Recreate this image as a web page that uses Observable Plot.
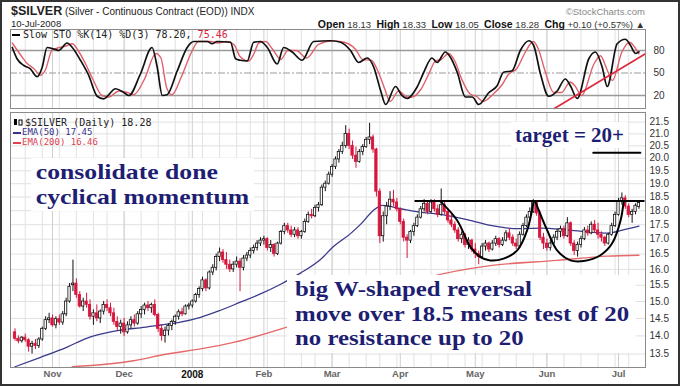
<!DOCTYPE html>
<html><head><meta charset="utf-8">
<script src="https://cdn.jsdelivr.net/npm/d3@7"></script>
<script src="https://cdn.jsdelivr.net/npm/@observablehq/plot@0.6"></script>
<style>
body{margin:0;background:#fff}
#wrap{position:relative;width:680px;height:386px;overflow:hidden;background:#fff;font-family:"Liberation Sans",Arial,sans-serif;color:#222}
.abs{position:absolute;white-space:nowrap}
#stoch,#price{position:absolute;left:0}
#stoch{top:0}
#price{top:100px}
.note{position:absolute;background:#fff;color:#1e1e72;font-family:"Liberation Serif","Times New Roman",serif;font-weight:bold;white-space:nowrap;transform-origin:0 0}
.mono{font-family:"DejaVu Sans Mono",monospace}
#border{position:absolute;left:0;top:0;width:680px;height:386px;box-sizing:border-box;border:2px solid #333;pointer-events:none}
.dash{display:inline-block;width:8px;height:2px;vertical-align:middle;margin-right:3px}
</style></head>
<body>
<div id="wrap">
  <div id="stoch"></div>
  <div id="price"></div>
  <div class="abs" style="left:11px;top:4px;font-size:10px;line-height:14px"><b style="font-size:12.5px">$SILVER</b> (Silver - Continuous Contract (EOD)) INDX</div>
  <div class="abs" style="left:11px;top:18px;font-size:9.5px;line-height:12px">10-Jul-2008</div>
  <div class="abs" style="right:35px;top:6px;font-size:9.5px;line-height:12px;color:#888">©StockCharts.com</div>
  <div class="abs" style="right:35px;top:18px;font-size:9.5px;line-height:12px;color:#333"><b style="font-size:10.5px;color:#111">Open</b> 18.13&nbsp; <b style="font-size:10.5px;color:#111">High</b> 18.33&nbsp; <b style="font-size:10.5px;color:#111">Low</b> 18.05&nbsp; <b style="font-size:10.5px;color:#111">Close</b> 18.28&nbsp; <b style="font-size:10.5px;color:#111">Chg</b> +0.10 (+0.57%) ▲</div>
  <div class="abs mono" style="left:12px;top:29px;font-size:10px;line-height:12px;color:#222"><span class="dash" style="background:#000"></span>Slow STO %K(14) %D(3) 78.20, <span style="color:#d8203c">75.46</span></div>
  <div class="abs mono" style="left:13px;top:117px;font-size:10px;line-height:12px;color:#222"><svg width="10" height="9" style="vertical-align:-1px;margin-right:2px"><rect x="1" y="1" width="3" height="6" fill="#000"/><rect x="6" y="2" width="3" height="5" fill="#fff" stroke="#000" stroke-width="1"/></svg>$SILVER (Daily) 18.28</div>
  <div class="abs mono" style="left:13px;top:127px;font-size:9px;line-height:11px;color:#33338a"><span class="dash" style="background:#33338a;margin-right:1px"></span>EMA(50) 17.45</div>
  <div class="abs mono" style="left:13px;top:137px;font-size:9px;line-height:11px;color:#e04050"><span class="dash" style="background:#e04050;margin-right:1px"></span>EMA(200) 16.46</div>
  <div class="note" style="left:31px;top:158px;padding:2px 4px;font-size:21.8px;line-height:24.5px;transform:scaleX(1.18)">consolidate done<br>cyclical momentum</div>
  <div class="note" style="left:511px;top:122px;padding:2px 4px;font-size:21px;line-height:22px">target = 20+</div>
  <div class="note" style="left:287px;top:275px;padding:2px 6px 2px 7px;font-size:21.8px;line-height:24.5px;transform:scaleX(1.14)">big W-shaped reversal<br>move over 18.5 means test of 20<br>no resistance up to 20</div>
  <div id="border"></div>
</div>
<script>
// ---- data ----
const tradingMonths = [
  ["2007-10", [17,18,19,22,23,24,25,26,29,30,31]],
  ["2007-11", [1,2,5,6,7,8,9,12,13,14,15,16,19,20,21,23,26,27,28,29,30]],
  ["2007-12", [3,4,5,6,7,10,11,12,13,14,17,18,19,20,21,24,26,27,28,31]],
  ["2008-01", [2,3,4,7,8,9,10,11,14,15,16,17,18,22,23,24,25,28,29,30,31]],
  ["2008-02", [1,4,5,6,7,8,11,12,13,14,15,19,20,21,22,25,26,27,28,29]],
  ["2008-03", [3,4,5,6,7,10,11,12,13,14,17,18,19,20,24,25,26,27,28,31]],
  ["2008-04", [1,2,3,4,7,8,9,10,11,14,15,16,17,18,21,22,23,24,25,28,29,30]],
  ["2008-05", [1,2,5,6,7,8,9,12,13,14,15,16,19,20,21,22,23,27,28,29,30]],
  ["2008-06", [2,3,4,5,6,9,10,11,12,13,16,17,18,19,20,23,24,25,26,27,30]],
  ["2008-07", [1,2,3,7,8,9,10]]
];
const monthLabels = ["Nov","Dec","2008","Feb","Mar","Apr","May","Jun","Jul"];
const priceTicks = [13.5,14,14.5,15,15.5,16,16.5,17,17.5,18,18.5,19,19.5,20,20.5,21,21.5];
const stoTicks = [20,50,80];

const open = [
14.10,13.92,13.85,13.95,13.88,13.70,13.78,13.72,13.90,14.20,
14.45,14.50,14.30,14.48,14.38,14.62,15.00,15.50,15.55,15.20,
14.85,15.00,14.90,14.55,14.65,14.50,14.70,14.90,14.80,14.65,
14.40,14.25,14.35,14.10,14.30,14.45,14.35,14.62,14.75,14.88,
14.80,14.90,14.60,14.20,14.00,14.15,14.28,14.40,14.55,14.68,
14.62,14.85,14.88,15.00,15.20,15.38,15.65,15.40,15.90,16.05,
16.40,16.55,16.30,16.15,16.00,16.15,16.25,16.05,16.35,16.45,
16.60,16.70,16.85,16.95,17.00,16.70,16.80,16.50,16.85,17.25,
17.45,17.30,17.15,17.30,17.10,17.25,17.60,17.85,17.80,18.10,
18.20,18.85,19.00,19.35,19.65,19.95,20.25,20.50,21.00,20.50,
20.10,19.85,20.25,20.45,20.75,20.85,20.35,18.70,17.10,17.80,
18.15,18.40,18.30,18.05,17.60,17.05,16.95,17.25,17.45,17.75,
18.05,18.25,17.95,18.30,18.05,17.85,18.20,17.95,17.65,17.50,
17.30,17.00,17.15,16.80,16.95,16.65,16.50,16.40,16.75,16.85,
16.65,16.85,17.00,16.80,16.95,17.20,17.05,16.85,16.75,17.15,
17.45,17.75,17.95,18.30,17.90,17.05,16.85,16.70,16.85,17.05,
17.25,17.35,17.10,17.55,16.85,16.60,16.80,17.00,17.30,17.20,
17.50,17.30,17.15,17.05,16.85,17.15,17.45,17.85,18.35,18.45,
18.15,17.85,17.95,18.13];
const high = [
14.20,14.00,13.98,14.05,13.92,13.85,13.90,13.95,14.25,14.55,
14.65,14.60,14.55,14.60,14.70,15.10,15.55,16.30,15.70,15.30,
15.10,15.25,15.05,14.75,14.90,14.75,15.00,15.05,14.95,14.80,
14.55,14.45,14.50,14.40,14.55,14.60,14.70,14.85,14.95,15.00,
14.95,15.05,14.65,14.30,14.25,14.35,14.45,14.60,14.75,14.80,
14.90,14.95,15.05,15.25,15.45,15.75,15.70,15.95,16.15,16.50,
16.70,16.65,16.55,16.30,16.25,16.40,16.35,16.45,16.55,16.70,
16.80,16.95,17.05,17.10,17.05,16.95,16.85,16.90,17.30,17.55,
17.55,17.45,17.40,17.40,17.30,17.70,17.95,18.05,18.20,18.30,
18.95,19.10,19.45,19.75,20.05,20.35,20.65,21.35,21.20,20.70,
20.45,20.35,20.55,20.85,21.45,20.95,20.40,18.80,17.95,18.30,
18.70,18.75,18.45,18.10,17.70,17.15,17.30,17.55,17.85,18.15,
18.40,18.35,18.40,18.40,18.20,18.80,18.30,18.05,17.85,17.60,
17.40,17.25,17.20,17.05,17.00,16.85,16.60,16.85,16.95,16.90,
16.95,17.10,17.05,17.05,17.30,17.35,17.15,17.00,17.25,17.55,
17.85,18.10,18.40,18.35,17.95,17.20,17.00,16.95,17.15,17.35,
17.45,17.45,17.75,17.60,16.95,16.90,17.10,17.40,17.45,17.60,
17.65,17.55,17.25,17.10,17.20,17.55,17.95,18.45,18.65,18.55,
18.25,18.05,18.25,18.33];
const low = [
13.85,13.78,13.80,13.82,13.55,13.50,13.62,13.65,13.85,14.15,
14.35,14.25,14.20,14.30,14.30,14.55,14.95,15.30,15.10,14.80,
14.70,14.80,14.45,14.30,14.40,14.35,14.60,14.70,14.55,14.30,
14.15,14.05,13.98,14.05,14.20,14.25,14.30,14.50,14.60,14.70,
14.65,14.55,14.10,13.85,13.80,14.00,14.15,14.30,14.45,14.55,
14.60,14.75,14.80,14.95,15.10,15.30,15.30,15.35,15.80,15.95,
16.25,16.20,16.00,15.90,15.90,16.05,15.30,15.95,16.25,16.35,
16.50,16.60,16.75,16.80,16.60,16.55,16.40,16.45,16.80,17.15,
17.20,17.05,17.05,17.00,17.00,17.20,17.55,17.70,17.75,17.95,
18.15,18.70,18.95,19.25,19.55,19.80,20.15,20.40,20.35,19.95,
19.60,19.80,20.10,20.40,20.55,20.20,18.50,16.85,16.90,17.50,
18.00,18.15,17.95,17.50,16.90,16.35,16.85,17.10,17.40,17.70,
17.95,17.85,17.90,17.95,17.75,17.80,17.85,17.55,17.40,17.20,
16.90,16.85,16.70,16.65,16.55,16.35,16.15,16.35,16.60,16.55,
16.60,16.75,16.70,16.75,16.90,16.95,16.75,16.65,16.70,17.10,
17.40,17.65,17.90,17.80,16.95,16.65,16.60,16.60,16.75,16.95,
17.05,17.00,17.05,16.75,16.45,16.40,16.70,16.95,17.10,17.15,
17.20,17.00,16.90,16.75,16.80,17.10,17.40,17.80,18.20,18.05,
17.75,17.55,17.85,18.05];
const close = [
13.92,13.85,13.95,13.88,13.70,13.78,13.72,13.90,14.20,14.45,
14.50,14.30,14.48,14.38,14.62,15.00,15.45,15.55,15.20,14.85,
15.00,14.90,14.55,14.65,14.50,14.70,14.90,14.80,14.65,14.40,
14.25,14.35,14.10,14.30,14.45,14.35,14.62,14.75,14.88,14.80,
14.90,14.60,14.20,14.00,14.15,14.28,14.40,14.55,14.68,14.62,
14.85,14.88,15.00,15.20,15.38,15.65,15.40,15.90,16.05,16.40,
16.55,16.30,16.15,16.00,16.15,16.25,16.05,16.35,16.45,16.60,
16.70,16.85,16.95,17.00,16.70,16.80,16.50,16.85,17.25,17.45,
17.30,17.15,17.30,17.10,17.25,17.60,17.85,17.80,18.10,18.20,
18.85,19.00,19.35,19.65,19.95,20.25,20.50,21.00,20.50,20.10,
19.85,20.25,20.45,20.75,20.85,20.35,18.70,17.10,17.80,18.15,
18.40,18.30,18.05,17.60,17.05,16.95,17.25,17.45,17.75,18.05,
18.25,17.95,18.30,18.05,17.85,18.20,17.95,17.65,17.50,17.30,
17.00,17.15,16.80,16.95,16.65,16.50,16.40,16.75,16.85,16.65,
16.85,17.00,16.80,16.95,17.20,17.05,16.85,16.75,17.15,17.45,
17.75,17.95,18.30,17.90,17.05,16.85,16.70,16.85,17.05,17.25,
17.35,17.10,17.55,16.85,16.60,16.80,17.00,17.30,17.20,17.50,
17.30,17.15,17.05,16.85,17.15,17.45,17.85,18.35,18.45,18.15,
17.85,17.95,18.18,18.28];

// [trading-day index, value]
const ema50 = [[0,13.16],[7.5,13.41],[15.3,13.69],[21.2,13.94],[25.1,14.05],[31.8,14.18],[36.8,14.23],[42.7,14.31],[48.5,14.39],[54.4,14.53],[60.3,14.74],[66.1,14.98],[72,15.23],[77.9,15.53],[83.7,15.88],[89.6,16.32],[93.4,16.75],[98.4,17.19],[101.4,17.52],[105.1,18.01],[107.8,18.19],[113.1,18.07],[119.8,17.93],[124.8,17.87],[132.6,17.68],[139.4,17.48],[147.3,17.36],[154.1,17.38],[161.9,17.32],[168.8,17.24],[173.7,17.21],[178.4,17.32],[183,17.45]];
const ema200 = [[16.8,13.16],[34.8,13.32],[44.6,13.50],[54.4,13.64],[64.1,13.82],[79.8,14.25],[100,14.95],[121.3,15.75],[139.4,16.12],[159,16.29],[173.7,16.43],[183,16.46]];
const stoK = [[-0.8,84],[0.6,69],[2.6,60],[4.5,55.6],[6.5,45],[8.0,58],[9.4,84],[11.4,82],[12.8,80],[15.3,90],[16.8,84],[19.2,67],[21.6,47],[24.1,19],[26.0,15.6],[29.5,29],[31.9,24],[33.4,20],[36.8,49],[40.2,84],[41.7,58],[43.2,20],[44.6,21],[47.6,53],[50.5,84],[52.4,92],[56.4,92],[57.8,89],[59.3,92],[63.2,91],[64.7,69],[66.1,67],[68.1,66],[70.0,91],[72.0,92],[74.0,84],[76.9,62],[78.8,84],[81.3,78],[84.2,67],[87.6,92],[92.5,93],[95.5,91],[98.4,80],[100.8,64],[103.3,70],[105.2,58],[107.2,27],[108.7,8],[111.6,32],[113.5,20],[115.0,16],[117.9,31],[119.9,51],[122.3,70],[123.8,64],[126.2,78],[127.7,71],[129.7,51],[132.1,18],[134.1,18],[136.0,8],[139.0,24],[141.4,33],[143.3,51],[145.8,53],[148.2,80],[150.7,93],[152.1,87],[154.1,49],[156.5,19],[159.0,26],[161.4,42],[162.9,33],[164.9,16],[168.3,69],[170.2,78],[172.2,58],[173.7,32],[176.6,89],[179.0,95],[180.5,87],[182.0,76],[183,78.2]];
const stoD = [[-0.8,90],[1.5,75],[3.5,63],[5.5,56],[7.5,47],[9,55],[10.8,80],[13,84],[15,86],[16.8,89],[18.5,80],[20.6,63],[23,40],[25.5,20],[27.5,18],[30.5,26],[33,24],[34.8,21],[38,42],[41.3,76],[42.8,70],[44.5,30],[46,21],[48.8,45],[51.8,78],[53.8,92],[57.5,92],[59.5,90],[62,92],[64.2,88],[66,72],[68.5,66],[70,75],[71.5,90],[73.5,92],[75.5,82],[78,68],[80,80],[82.5,80],[85.5,70],[89,88],[93,93],[96.5,91],[99.8,82],[102,68],[104.5,67],[106.5,52],[108.5,28],[110,12],[112.5,26],[115,18],[116.5,18],[119,28],[121.5,50],[123.3,66],[125,68],[127.2,76],[129,66],[131,42],[133.5,22],[135.3,19],[137.3,12],[140.3,22],[142.8,34],[144.7,48],[147.2,56],[149.7,78],[152,92],[153.5,82],[155.5,52],[158,24],[160.3,24],[162.8,38],[164.2,33],[166.2,20],[169.8,62],[171.7,73],[173.5,56],[175.2,40],[178,78],[180.3,91],[181.8,84],[183,75.46]];
const resistance = [[117.4,18.35],[184.4,18.35]];
const target = [[169.6,20.22],[183.4,20.22]];
const arcLeft = [[124.8,18.34],[129.7,17.65],[133.6,16.73],[136.5,16.40],[139.4,16.29],[143.3,16.35],[147.3,16.62],[150.2,17.30],[152.1,18.33]];
const arcRight = [[152.6,18.33],[156.1,17.30],[159.0,16.62],[162.9,16.29],[166.8,16.27],[171.7,16.46],[175.1,16.85],[177.6,17.65],[178.5,18.33]];
const stoTrend = [[158.2,2.7],[184.9,75.6]];

// ---- derived ----
const dates = [];
tradingMonths.forEach(([ym, days]) => {
  const [y, m] = ym.split("-").map(Number);
  days.forEach(d => dates.push(new Date(y, m - 1, d)));
});
const idx = dates.map((d, i) => i);
const weekStarts = idx.filter(i => i > 0 && dates[i].getDay() < dates[i - 1].getDay());
const monthStarts = idx.filter(i => i > 0 && dates[i].getMonth() !== dates[i - 1].getMonth());
const bars = close.map((c, i) => ({i, o: open[i], h: high[i], l: low[i], c}));
const RED = "#d8153c";
const candleColor = d => (d.i > 0 ? d.c < close[d.i - 1] : d.c < d.o) ? RED : "#111";
const xDomain = [-1.32, 184.92];
const baseStyle = {background: "transparent", fontFamily: "'Liberation Sans', Arial, sans-serif", fontSize: "10px", color: "#333", overflow: "visible"};
const px = d => d[0], py = d => d[1];

const stoch = Plot.plot({
  width: 680, height: 112,
  marginTop: 29, marginBottom: 4, marginLeft: 10, marginRight: 35,
  style: baseStyle,
  x: {domain: xDomain, axis: null},
  y: {domain: [2.67, 108], axis: "right", ticks: stoTicks, tickSize: 0, tickPadding: 8, label: null},
  marks: [
    Plot.ruleX(weekStarts, {stroke: "#e2e2e2"}),
    Plot.ruleX(monthStarts, {stroke: "#cfcfcf"}),
    Plot.ruleY([20, 80], {stroke: "#9a9a9a", strokeWidth: 1.6}),
    Plot.ruleY([50], {stroke: "#9a9a9a", strokeWidth: 1, strokeDasharray: "7,2,2,2"}),
    Plot.line(stoD, {x: px, y: py, stroke: "#e0606c", strokeWidth: 1.4, curve: "monotone-x"}),
    Plot.line(stoK, {x: px, y: py, stroke: "#111", strokeWidth: 1.7, curve: "monotone-x"}),
    Plot.line(stoTrend, {x: px, y: py, stroke: "#e0283c", strokeWidth: 1.6}),
    Plot.frame({stroke: "#8a8a8a"})
  ]
});
document.getElementById("stoch").append(stoch);

const price = Plot.plot({
  width: 680, height: 286,
  marginTop: 12, marginBottom: 19, marginLeft: 10, marginRight: 35,
  style: baseStyle,
  x: {domain: xDomain, ticks: monthStarts, tickFormat: i => monthLabels[monthStarts.indexOf(i)], tickSize: 0, tickPadding: 3, label: null},
  y: {type: "log", domain: [13.14, 21.92], ticks: priceTicks, tickFormat: d => d.toFixed(1), axis: "right", tickSize: 0, tickPadding: 4, label: null},
  marks: [
    Plot.ruleY(priceTicks, {stroke: "#e0e0e0"}),
    Plot.ruleX(weekStarts, {stroke: "#e2e2e2"}),
    Plot.ruleX(monthStarts, {stroke: "#cfcfcf"}),
    Plot.line(ema200, {x: px, y: py, stroke: "#e46a6a", strokeWidth: 1.4, curve: "monotone-x"}),
    Plot.line(ema50, {x: px, y: py, stroke: "#3a3a8c", strokeWidth: 1.3, curve: "monotone-x"}),
    Plot.ruleX(bars, {x: "i", y1: "l", y2: "h", stroke: candleColor, strokeWidth: 1}),
    Plot.rect(bars, {x1: d => d.i - 0.34, x2: d => d.i + 0.34, y1: d => Math.min(d.o, d.c), y2: d => Math.max(d.o, d.c), fill: d => d.c > d.o ? "white" : candleColor(d), stroke: candleColor, strokeWidth: 0.8}),
    Plot.line(resistance, {x: px, y: py, stroke: "#000", strokeWidth: 2}),
    Plot.line(target, {x: px, y: py, stroke: "#000", strokeWidth: 2}),
    Plot.line(arcLeft, {x: px, y: py, stroke: "#000", strokeWidth: 2, curve: "catmull-rom"}),
    Plot.line(arcRight, {x: px, y: py, stroke: "#000", strokeWidth: 2, curve: "catmull-rom"}),
    Plot.frame({stroke: "#8a8a8a"})
  ]
});
price.querySelectorAll("text").forEach(t => {
  const s = t.textContent;
  if (s === "2008") { t.setAttribute("font-weight", "bold"); t.setAttribute("fill", "#111"); }
  else if (monthLabels.includes(s)) { t.setAttribute("font-weight", "bold"); t.setAttribute("fill", "#666"); t.setAttribute("font-size", "9.5"); }
});
document.getElementById("price").append(price);
</script>
</body></html>
